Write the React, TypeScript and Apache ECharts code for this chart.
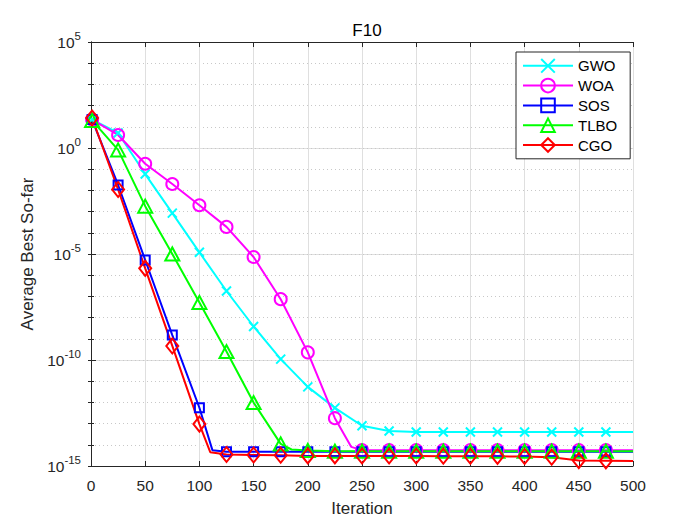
import React, { useEffect, useRef } from "react";
import * as echarts from "echarts";

const GWO_X = [1, 25, 50, 75, 100, 125, 150, 175, 200, 225, 250, 275, 300, 325, 350, 375, 400, 425, 450, 475, 500];
const GWO_Y = [2.2e1, 5.1e0, 5.9e-2, 8.5e-4, 1.2e-5, 1.8e-7, 3.8e-9, 1.1e-10, 5.4e-12, 5.5e-13, 7.9e-14, 4.5e-14, 4.0e-14, 4.0e-14, 4.0e-14, 4.0e-14, 4.0e-14, 4.0e-14, 4.0e-14, 4.0e-14, 4.0e-14];

const WOA_X = [1, 25, 50, 75, 100, 125, 150, 175, 200, 225, 240, 250, 275, 300, 325, 350, 375, 400, 425, 450, 475, 500];
const WOA_Y = [2.2e1, 4.1e0, 1.8e-1, 2.0e-2, 2.0e-3, 1.9e-4, 7.2e-6, 7.4e-8, 2.3e-10, 1.8e-13, 8.0e-15, 5.6e-15, 5.6e-15, 5.6e-15, 5.6e-15, 5.6e-15, 5.6e-15, 5.6e-15, 5.6e-15, 5.6e-15, 5.6e-15, 5.6e-15];

const SOS_X = [1, 25, 50, 75, 100, 112, 125, 150, 175, 200, 225, 250, 275, 300, 325, 350, 375, 400, 425, 450, 475, 500];
const SOS_Y = [2.2e1, 1.8e-2, 5.2e-6, 1.5e-9, 5.6e-13, 5.6e-15, 4.7e-15, 4.7e-15, 4.7e-15, 4.7e-15, 4.7e-15, 4.7e-15, 4.7e-15, 4.7e-15, 4.7e-15, 4.7e-15, 4.7e-15, 4.7e-15, 4.7e-15, 4.7e-15, 4.7e-15, 4.7e-15];

const TLBO_X = [1, 25, 50, 75, 100, 125, 150, 175, 185, 200, 225, 250, 275, 300, 325, 350, 375, 400, 425, 450, 475, 500];
const TLBO_Y = [2.0e1, 8.1e-1, 1.8e-3, 1.0e-5, 5.2e-8, 2.5e-10, 9.8e-13, 1.1e-14, 6.0e-15, 5.4e-15, 5.0e-15, 5.0e-15, 5.0e-15, 5.0e-15, 5.0e-15, 5.0e-15, 5.0e-15, 5.0e-15, 5.0e-15, 5.0e-15, 5.0e-15, 5.0e-15];

const CGO_X = [1, 25, 50, 75, 100, 110, 125, 150, 175, 200, 225, 250, 275, 300, 325, 350, 375, 400, 425, 450, 475, 500];
const CGO_Y = [2.6e1, 1.1e-2, 2.1e-6, 4.6e-10, 9.5e-14, 4.5e-15, 3.5e-15, 3.3e-15, 3.2e-15, 3.0e-15, 3.0e-15, 2.95e-15, 2.95e-15, 2.95e-15, 2.9e-15, 2.9e-15, 2.85e-15, 2.8e-15, 2.6e-15, 1.8e-15, 1.75e-15, 1.7e-15];

const SERIES_NAMES = ["GWO", "WOA", "SOS", "TLBO", "CGO"];
const X_TICKS = { min: 0, max: 500, interval: 50 };
const Y_RANGE = { min: 1e-15, max: 1e5 };

const TEXT = "#262626";
const FONT = "'Liberation Sans', Arial, Helvetica, sans-serif";

function buildData(xs: number[], ys: number[]) {
  return xs.map((x, i) => {
    const marked = x !== 500 && (x === 1 || x % 25 === 0);
    return marked ? { value: [x, ys[i]] } : { value: [x, ys[i]], symbol: "none" };
  });
}

const STYLES: Record<string, { color: string; symbol: string; size: number | number[] }> = {
  GWO: { color: "#00FFFF", symbol: "path://M0,0L10,10M10,0L0,10", size: 9 },
  WOA: { color: "#FF00FF", symbol: "circle", size: 12 },
  SOS: { color: "#0000FF", symbol: "rect", size: 9 },
  TLBO: { color: "#00FF00", symbol: "triangle", size: [14, 13] },
  CGO: { color: "#FF0000", symbol: "diamond", size: [12, 15] },
};

export default function App() {
  const ref = useRef<HTMLDivElement>(null);
  useEffect(() => {
    if (!ref.current) return;
    const chart = echarts.init(ref.current, null, { renderer: "svg" });
    const dataSets: Record<string, [number[], number[]]> = {
      GWO: [GWO_X, GWO_Y],
      WOA: [WOA_X, WOA_Y],
      SOS: [SOS_X, SOS_Y],
      TLBO: [TLBO_X, TLBO_Y],
      CGO: [CGO_X, CGO_Y],
    };
    const series = SERIES_NAMES.map((name) => {
      const st = STYLES[name];
      const [xs, ys] = dataSets[name];
      return {
        name,
        type: "line",
        xAxisIndex: 0,
        yAxisIndex: 0,
        data: buildData(xs, ys),
        symbol: st.symbol,
        symbolSize: st.size,
        showAllSymbol: true,
        lineStyle: { color: st.color, width: 2 },
        itemStyle: { color: "rgba(0,0,0,0)", borderColor: st.color, borderWidth: 2 },
        emphasis: { disabled: true },
      };
    });
    chart.setOption({
      animation: false,
      textStyle: { fontFamily: FONT },
      title: {
        text: "F10",
        left: 362,
        top: 17,
        textAlign: "center",
        textStyle: { fontSize: 17, fontWeight: "normal", color: "#000", fontFamily: FONT },
      },
      legend: {
        orient: "vertical",
        left: 516,
        top: 52,
        itemWidth: 50,
        itemHeight: 17,
        itemGap: 4.2,
        padding: [6, 13, 6, 6],
        borderColor: TEXT,
        borderWidth: 1,
        backgroundColor: "#fff",
        textStyle: { fontSize: 15, color: "#000", fontFamily: FONT, padding: [0, 0, 0, 0] },
        data: SERIES_NAMES,
      },
      grid: { left: 91, right: 67, top: 42, bottom: 59, containLabel: false },
      xAxis: [
        {
          type: "value",
          ...X_TICKS,
          position: "bottom",
          axisLine: { show: true, lineStyle: { color: TEXT, width: 1 } },
          axisTick: { show: true, inside: true, length: 5, lineStyle: { color: TEXT } },
          axisLabel: { fontSize: 15.5, color: TEXT, margin: 11, fontFamily: FONT },
          splitLine: { show: true, lineStyle: { color: "#dfdfdf", width: 1 } },
          name: "Iteration",
          nameLocation: "middle",
          nameGap: 34,
          nameTextStyle: { fontSize: 17, color: TEXT, fontFamily: FONT },
        },
        {
          type: "value",
          ...X_TICKS,
          position: "top",
          axisLine: { show: true, lineStyle: { color: TEXT, width: 1 } },
          axisTick: { show: true, inside: true, length: 5, lineStyle: { color: TEXT } },
          axisLabel: { show: false },
          splitLine: { show: false },
        },
      ],
      yAxis: [
        {
          type: "log",
          logBase: 10,
          ...Y_RANGE,
          interval: 5,
          position: "left",
          axisLine: { show: true, lineStyle: { color: TEXT, width: 1 } },
          axisTick: { show: true, inside: true, length: 5, lineStyle: { color: TEXT } },
          axisLabel: {
            margin: 10,
            formatter: (v: number) => `{b|10}{s|${Math.round(Math.log10(v))}}`,
            rich: {
              b: { fontSize: 15.5, color: TEXT, fontFamily: FONT },
              s: { fontSize: 11.5, color: TEXT, fontFamily: FONT, padding: [0, 0, 12, 0] },
            },
          },
          splitLine: { show: true, lineStyle: { color: "#dfdfdf", width: 1 } },
          name: "Average Best So-far",
          nameLocation: "middle",
          nameGap: 49,
          nameTextStyle: { fontSize: 17, color: TEXT, fontFamily: FONT },
        },
        {
          type: "log",
          logBase: 10,
          ...Y_RANGE,
          interval: 1,
          position: "right",
          axisLine: { show: true, lineStyle: { color: TEXT, width: 1 } },
          axisTick: { show: true, inside: true, length: 3, lineStyle: { color: TEXT } },
          axisLabel: { show: false },
          splitLine: { show: true, lineStyle: { color: "#c8c8c8", width: 1, type: [1, 3] } },
        },
        {
          type: "log",
          logBase: 10,
          ...Y_RANGE,
          interval: 1,
          position: "left",
          offset: 0,
          axisLine: { show: false },
          axisTick: { show: true, inside: true, length: 3, lineStyle: { color: TEXT } },
          axisLabel: { show: false },
          splitLine: { show: false },
        },
      ],
      series,
    });
    return () => chart.dispose();
  }, []);
  return (
    <div
      ref={ref}
      style={{ position: "absolute", left: 0, top: 0, width: 700, height: 525 }}
    />
  );
}
